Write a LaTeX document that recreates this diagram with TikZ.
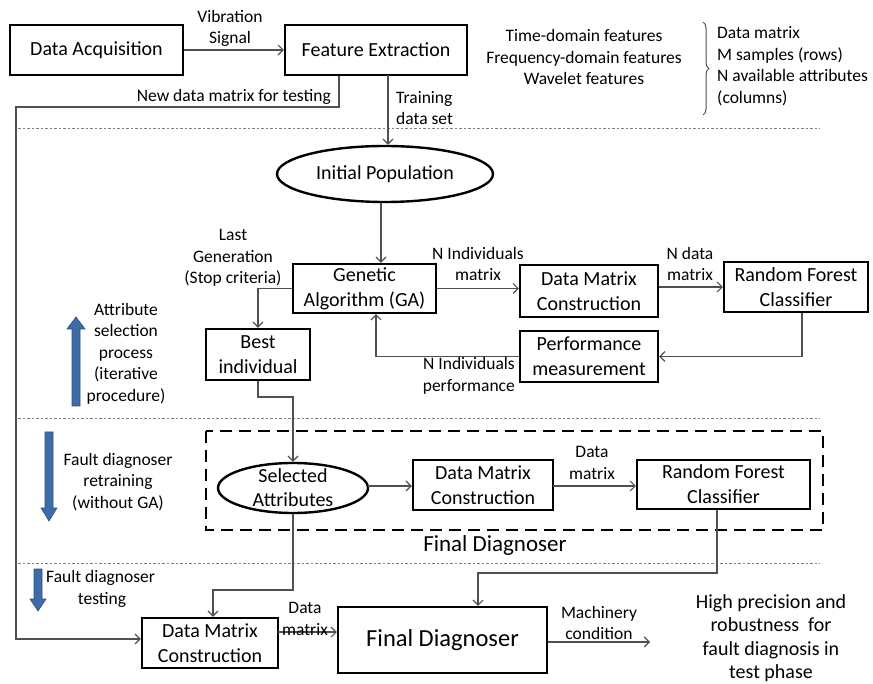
\documentclass[tikz,border=0pt]{standalone}
\usepackage{fontspec}
\setmainfont{Carlito}
\usetikzlibrary{arrows.meta,shapes.geometric,decorations.pathreplacing}
\definecolor{lnc}{RGB}{80,80,80}
\definecolor{blueA}{RGB}{62,108,168}
\definecolor{blueB}{RGB}{45,80,130}
\tikzset{
  box/.style={draw, line width=2.4pt, align=center, inner sep=0pt, font=\fontsize{20}{25}\selectfont},
  ell/.style={ellipse, draw, line width=2.4pt, inner sep=0pt},
  txt/.style={align=center, inner sep=0pt, font=\fontsize{20}{24}\selectfont},
  lbl/.style={align=center, inner sep=0pt, font=\fontsize{17.5}{21.5}\selectfont},
  conn/.style={draw=lnc, line width=1.1pt},
  arr/.style={conn, -{Straight Barb[length=5pt,width=10pt]}},
  sepline/.style={draw=gray, line width=0.7pt, dash pattern=on 2.5pt off 2pt},
  bluear/.style={draw=blueB, line width=0.6pt, fill=blueA},
}
\begin{document}
\begin{tikzpicture}[x=1pt,y=-1pt]
\useasboundingbox (0,0) rectangle (873,684);
% top row
\node[box, minimum width=173pt, minimum height=50pt] (da) at (96.5,50) {Data Acquisition};
\node[box, minimum width=182pt, minimum height=50pt] (fe) at (376,50) {Feature Extraction};
\draw[arr] (da.east) -- (fe.west);
\node[lbl] (vs) at (230,28.5) {Vibration\\Signal};
\node[lbl] (feat) at (584,57) {Time-domain features\\Frequency-domain features\\Wavelet features};
\coordinate (brt) at (703,22);
\coordinate (brb) at (703,115);
\draw[lnc, line width=1pt, decorate, decoration={brace, amplitude=6pt}] (brt) -- (brb);
\node[lbl, align=left, anchor=west] (dm) at (717,66) {Data matrix\\M samples (rows)\\N available attributes\\(columns)};
% separators
\coordinate (s1a) at (18,128); \coordinate (s1b) at (820,128);
\coordinate (s2a) at (18,418); \coordinate (s2b) at (820,418);
\coordinate (s3a) at (18,563); \coordinate (s3b) at (820,563);
\draw[sepline] (s1a) -- (s1b);
\draw[sepline] (s2a) -- (s2b);
\draw[sepline] (s3a) -- (s3b);
% GA section
\node[ell, minimum width=216pt, minimum height=56pt] (ip) at (385,174) {};
\node[txt] (ipt) at (ip) {Initial Population};
\node[box, minimum width=143pt, minimum height=49pt] (ga) at (364.5,288.5) {Genetic\\Algorithm (GA)};
\node[box, minimum width=104pt, minimum height=51pt] (best) at (258,354.5) {Best\\individual};
\node[box, minimum width=138pt, minimum height=52pt] (dmc1) at (589,291) {Data Matrix\\Construction};
\node[box, minimum width=144pt, minimum height=50pt] (rfc1) at (796,287) {Random Forest\\Classifier};
\node[box, minimum width=138pt, minimum height=51pt] (pm) at (589,356.5) {Performance\\measurement};
% bottom boxes
\node[box, minimum width=136pt, minimum height=50pt] (dmc3) at (210,643) {Data Matrix\\Construction};
\node[box, minimum width=209pt, minimum height=66pt, font=\fontsize{24.5}{28}\selectfont] (fd) at (442.5,640) {Final Diagnoser};
% connectors top
\coordinate (nd1) at (339,107);
\coordinate (nd2) at (16,107);
\coordinate (nd3) at (16,639);
\draw[arr] (fe.south -| nd1) -- (nd1) -- (nd2) -- (nd3) -- (nd3 -| dmc3.west);
\node[lbl, anchor=east] (ndl) at (331,97) {New data matrix for testing};
\coordinate (trx) at (388,75);
\draw[arr] (trx) -- (trx |- ip.north);
\node[lbl, align=left, anchor=west] (trl) at (396,108) {Training\\data set};
\coordinate (ipx) at (381,0);
\draw[arr] (ipx |- ip.south) -- (ipx |- ga.north);
\draw[arr] (ga.west) -| (best.north);
\node[lbl] (lg) at (233,258) {Last\\Generation\\(Stop criteria)};
\draw[arr] (ga.east) -- (ga.east -| dmc1.west);
\node[lbl] (nim) at (478,264) {N Individuals\\matrix};
\draw[arr] (rfc1.west -| dmc1.east) -- (rfc1.west);
\node[lbl] (ndm) at (690,264) {N data\\matrix};
\coordinate (rf1x) at (802,0);
\draw[arr] (rf1x |- rfc1.south) |- (pm.east);
\coordinate (gax) at (376,0);
\draw[arr] (pm.west) -| (gax |- ga.south);
\node[lbl, align=right, anchor=east] (nip) at (515,376) {N Individuals\\performance};
% left arrows
\draw[bluear] (72,406) -- (72,329) -- (67,329) -- (76,317) -- (85,329) -- (80,329) -- (80,406) -- cycle;
\node[lbl] (asp) at (126,353.5) {Attribute\\selection\\process\\(iterative\\procedure)};
\draw[bluear] (45,432) -- (45,508) -- (41,508) -- (49,521) -- (57,508) -- (53,508) -- (53,432) -- cycle;
\node[lbl] (fdr) at (118,482) {Fault diagnoser\\retraining\\(without GA)};
\draw[bluear] (34,569) -- (34,599) -- (30,599) -- (38,611) -- (46,599) -- (42,599) -- (42,569) -- cycle;
\node[lbl, anchor=west] (fdt1) at (46,578) {Fault diagnoser};
\node[lbl] (fdt2) at (102,600) {testing};
% final diagnoser section
\draw[line width=2.4pt, dash pattern=on 12pt off 7pt] (206,431) rectangle (823,530);
\node[txt, font=\fontsize{23}{27}\selectfont] (fdl) at (495,545) {Final Diagnoser};
\node[ell, minimum width=150pt, minimum height=50pt] (sa) at (293,488) {};
\node[txt] (sat) at (sa) {Selected\\Attributes};
\node[box, minimum width=140pt, minimum height=50pt] (dmc2) at (483,485) {Data Matrix\\Construction};
\node[box, minimum width=173pt, minimum height=49pt] (rfc2) at (723.5,484.5) {Random Forest\\Classifier};
\coordinate (bx) at (293,397);
\draw[arr] (best.south) |- (bx) -- (sa.north);
\coordinate (sar) at (368,486);
\draw[arr] (sar) -- (sar -| dmc2.west);
\coordinate (d2r) at (553,486);
\draw[arr] (d2r) -- (d2r -| rfc2.west);
\node[lbl] (dm2) at (592,463) {Data\\matrix};
% bottom connectors
\coordinate (r2a) at (717,573);
\coordinate (r2b) at (478,573);
\draw[arr] (r2a |- rfc2.south) -- (r2a) -- (r2b) -- (r2b |- fd.north);
\coordinate (s3x) at (293,590);
\coordinate (s3y) at (213,590);
\draw[arr] (sa.south) -- (s3x) -- (s3y) -- (s3y |- dmc3.north);
\coordinate (d3o) at (278,632);
\draw[arr] (d3o) -- (d3o -| fd.west);
\node[lbl] (dm3) at (305,619) {Data\\matrix};
\coordinate (mc) at (650,642);
\draw[arr] (fd.east |- mc) -- (mc);
\node[lbl] (mcl) at (599,623) {Machinery\\condition};
\node[txt, font=\fontsize{20}{23.5}\selectfont] (hp) at (771,638) {High precision and\\robustness\ \ for\\fault diagnosis in\\test phase};
\end{tikzpicture}
\end{document}
